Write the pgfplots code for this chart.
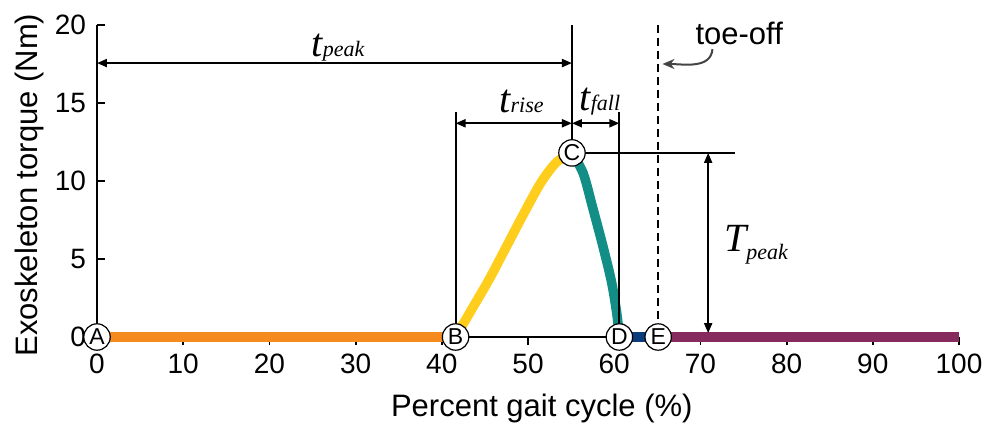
\documentclass[border=0pt]{standalone}
\usepackage{fontspec}
\setmainfont{Liberation Sans}
\newfontfamily\timesf{Liberation Serif}
\usepackage{pgfplots}
\pgfplotsset{compat=1.18}
\usetikzlibrary{arrows.meta}
\definecolor{corange}{HTML}{F58A1F}
\definecolor{cyellow}{HTML}{FFCD1C}
\definecolor{cteal}{HTML}{138E86}
\definecolor{cnavy}{HTML}{0B3C7C}
\definecolor{cpurple}{HTML}{872A5E}
\definecolor{cgray}{HTML}{444444}
\newcommand{\sublbl}[3]{{\timesf\itshape\fontsize{20}{22}\selectfont #1}\raisebox{#3}{\timesf\itshape\fontsize{11}{12}\selectfont #2}}
\begin{document}
\begin{tikzpicture}
\begin{axis}[
  at={(0,0)}, anchor=origin,
  scale only axis, width=431pt, height=156pt,
  xmin=0, xmax=100, ymin=0, ymax=20,
  axis lines=left, axis line style={-, line width=0.9pt},
  clip=false,
  xtick={0,10,...,100}, ytick={0,5,...,20},
  tick align=inside, major tick length=4pt,
  tick style={line width=0.9pt, black},
  xtick style={yshift=-4pt},
  /pgf/number format/assume math mode=true,
  tick label style={font=\fontsize{14}{16}\selectfont},
  xticklabel style={yshift=-5pt},
  yticklabel style={xshift=-2pt},
  every axis x label/.style={at={(axis description cs:0.516,-0.2564)}, anchor=base},
  every axis y label/.style={at={(axis description cs:-0.0696,0.487)}, anchor=base, rotate=90},
  label style={font=\fontsize{15.5}{18}\selectfont},
  xlabel={Percent gait cycle (\%)},
  ylabel={Exoskeleton torque (Nm)},
]
% coloured phases
\addplot[corange, line width=4.75pt] coordinates {(0,0) (41.6,0)};
\addplot[cyellow, line width=4.75pt, smooth, line join=round] coordinates {
 (41.6,0) (43.5,1.8) (45.5,3.7) (47.5,5.8) (49.5,7.9) (51.5,9.9) (53.3,11.2) (55.1,11.8)};
\addplot[cteal, line width=4.75pt, smooth, line join=round] coordinates {
 (55.1,11.8) (56.4,10.5) (57.5,8.3) (58.7,5.8) (59.7,3.5) (60.3,1.5) (60.6,0)};
\addplot[cnavy, line width=4.75pt] coordinates {(60.6,0) (65.1,0)};
\addplot[cpurple, line width=4.75pt] coordinates {(65.1,0) (100,0)};
% annotations
\draw[line width=1pt] (axis cs:55.1,20) -- (axis cs:55.1,11.8);
\draw[line width=1pt] (axis cs:41.6,14.4) -- (axis cs:41.6,0);
\draw[line width=1pt] (axis cs:60.6,14.4) -- (axis cs:60.6,0);
\draw[line width=1pt] (axis cs:55.1,11.8) -- (axis cs:74,11.8);
\draw[line width=1pt, {Triangle[length=5pt,width=4pt]}-{Triangle[length=5pt,width=4pt]}] (axis cs:0,17.56) -- (axis cs:55.1,17.56);
\draw[line width=1pt, {Triangle[length=5pt,width=4pt]}-{Triangle[length=5pt,width=4pt]}] (axis cs:41.6,13.7) -- (axis cs:55.1,13.7);
\draw[line width=1pt, {Triangle[length=5pt,width=4pt]}-{Triangle[length=5pt,width=4pt]}] (axis cs:55.1,13.7) -- (axis cs:60.6,13.7);
\draw[line width=1pt, {Triangle[length=5pt,width=4pt]}-{Triangle[length=5pt,width=4pt]}] (axis cs:70.9,11.8) -- (axis cs:70.9,0.25);
\draw[line width=1pt, dash pattern=on 4pt off 2.5pt] (axis cs:65.1,20) -- (axis cs:65.1,0);
\node[anchor=base, inner sep=0pt] at (axis cs:27.96,17.95) {\sublbl{t}{peak}{0pt}};
\node[anchor=base, inner sep=0pt] at (axis cs:49.25,14.42) {\sublbl{t}{rise}{0pt}};
\node[anchor=base, inner sep=0pt] at (axis cs:58.35,14.55) {\sublbl{t}{fall}{0pt}};
\node[anchor=base, inner sep=0pt] at (axis cs:76.45,5.45) {\sublbl{T}{peak}{-4pt}};
\node[anchor=base, inner sep=0pt, font=\fontsize{15.5}{18}\selectfont] at (axis cs:74.5,18.72) {toe-off};
\draw[cgray, line width=1pt, -{Stealth[length=6pt,width=5pt]}] (axis cs:71.4,18.45) to[out=-95, in=0] (axis cs:65.6,17.5);
% event markers
\addplot[only marks, mark=*, mark size=6.6pt, mark options={fill=white, draw=black, line width=0.6pt},
  nodes near coords, point meta=explicit symbolic,
  every node near coord/.style={anchor=center, font=\fontsize{11.5}{13}\selectfont, inner sep=0pt}]
  coordinates {(0,0)[A] (41.6,0)[B] (55.1,11.8)[C] (60.6,0)[D] (65.1,0)[E]};
\end{axis}
\pgfresetboundingbox
\useasboundingbox (-48.5pt,-45pt) rectangle (445.5pt,168.5pt);
\end{tikzpicture}
\end{document}
